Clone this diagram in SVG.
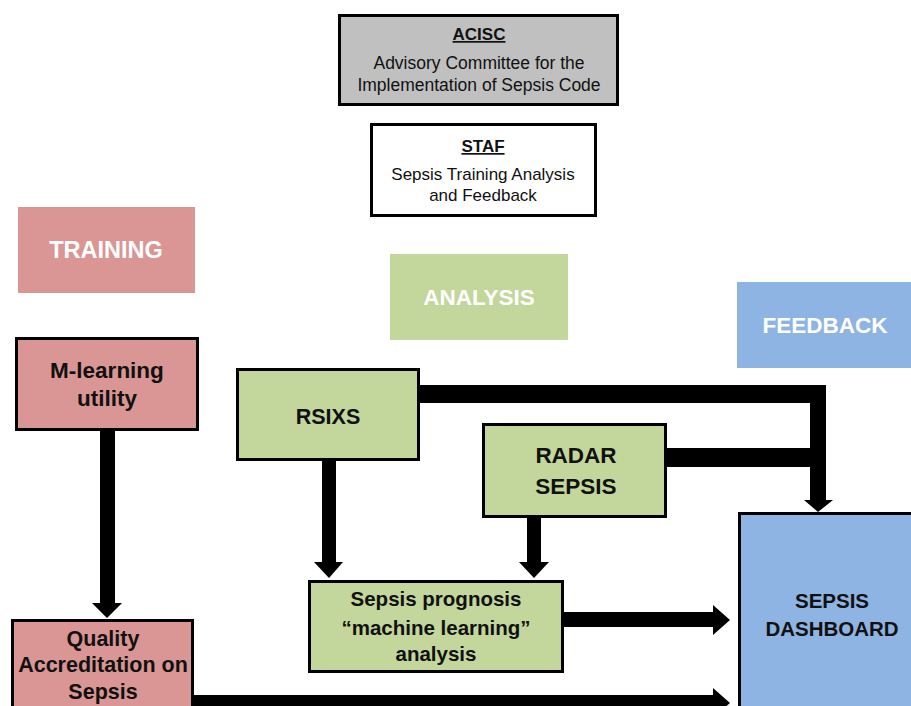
<svg xmlns="http://www.w3.org/2000/svg" width="911" height="706" viewBox="0 0 911 706">
<style>
.box{stroke:#000;stroke-width:3}
.pink{fill:#d99694}
.green{fill:#c3d69b}
.blue{fill:#8eb4e3}
.gray{fill:#c0c0c0}
.white{fill:#fff}
.lbl{font-family:"Liberation Sans",Arial,sans-serif;font-weight:bold;fill:#fff;text-anchor:middle}
.t{font-family:"Liberation Sans",Arial,sans-serif;fill:#111;text-anchor:middle}
.b{font-weight:bold}
.conn{fill:#000}
</style>
<rect width="911" height="706" fill="#fff"/>
<g id="acisc">
<rect class="box gray" x="339.5" y="15.5" width="278" height="89"/>
<text class="t b" x="479" y="40" font-size="17" text-decoration="underline">ACISC</text>
<text class="t" x="479" y="69" font-size="17.5">Advisory Committee for the</text>
<text class="t" x="479" y="91" font-size="17.5">Implementation of Sepsis Code</text>
</g>
<g id="staf">
<rect class="box white" x="371.5" y="124.5" width="224" height="91"/>
<text class="t b" x="483" y="152" font-size="17" text-decoration="underline">STAF</text>
<text class="t" x="483" y="180" font-size="17">Sepsis Training Analysis</text>
<text class="t" x="483" y="201" font-size="17">and Feedback</text>
</g>
<g id="training">
<rect class="pink" x="18" y="207" width="177" height="86"/>
<text class="lbl" x="106" y="258" font-size="23.5">TRAINING</text>
</g>
<g id="analysis">
<rect class="green" x="390" y="254" width="178" height="86"/>
<text class="lbl" x="479" y="305" font-size="22.5">ANALYSIS</text>
</g>
<g id="feedback">
<rect class="blue" x="737" y="282" width="174" height="86"/>
<text class="lbl" x="825" y="333" font-size="22.5">FEEDBACK</text>
</g>
<g id="connectors">
<path class="conn" d="M420 385 H826 V500 H833 L818 512 L804 500 H810 V403 H420 Z"/>
<rect class="conn" x="667" y="448" width="145" height="19"/>
<path class="conn" d="M322 460 H336 V562 H343 L329 578 L314 562 H322 Z"/>
<path class="conn" d="M527 517 H541 V562 H549 L534 578 L519 562 H527 Z"/>
<path class="conn" d="M100 430 H115 V603 H122 L107 618 L92 603 H100 Z"/>
<path class="conn" d="M563 612 H713 V605 L730 620 L713 635 V627 H563 Z"/>
<path class="conn" d="M193 695 H713 V688 L730 703 L713 718 V710 H193 Z"/>
</g>
<g id="mlearning">
<rect class="box pink" x="16.5" y="338.5" width="181" height="91"/>
<text class="t b" x="107" y="378" font-size="22.5">M-learning</text>
<text class="t b" x="107" y="406" font-size="22.5">utility</text>
</g>
<g id="rsixs">
<rect class="box green" x="237.5" y="369.5" width="181" height="90"/>
<text class="t b" x="328" y="424" font-size="21.5">RSIXS</text>
</g>
<g id="radar">
<rect class="box green" x="483.5" y="424.5" width="182" height="92"/>
<text class="t b" x="576" y="463" font-size="22.5">RADAR</text>
<text class="t b" x="576" y="494" font-size="22.5">SEPSIS</text>
</g>
<g id="prognosis">
<rect class="box green" x="309.5" y="581.5" width="253" height="90"/>
<text class="t b" x="436" y="606" font-size="20.5">Sepsis prognosis</text>
<text class="t b" x="436" y="635" font-size="20.5">“machine learning”</text>
<text class="t b" x="436" y="661" font-size="20.5">analysis</text>
</g>
<g id="quality">
<rect class="box pink" x="12.5" y="620.5" width="180" height="95"/>
<text class="t b" x="103" y="646" font-size="21.5">Quality</text>
<text class="t b" x="103" y="672" font-size="21.5">Accreditation on</text>
<text class="t b" x="103" y="699" font-size="21.5">Sepsis</text>
</g>
<g id="dashboard">
<rect class="box blue" x="739.5" y="513.5" width="180" height="200"/>
<text class="t b" x="832" y="608" font-size="20.5">SEPSIS</text>
<text class="t b" x="832" y="636" font-size="20.5">DASHBOARD</text>
</g>
</svg>
